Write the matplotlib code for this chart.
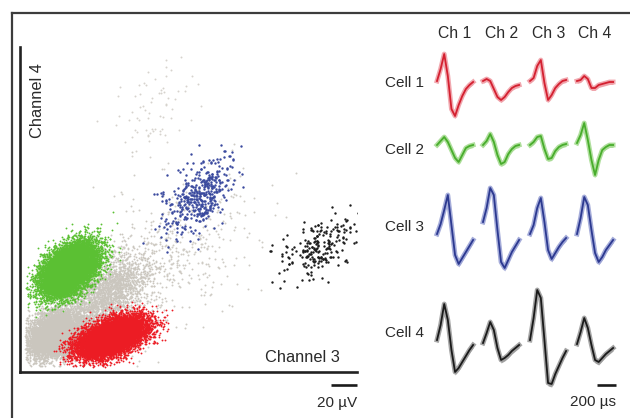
import matplotlib
matplotlib.use("Agg")
import matplotlib.pyplot as plt
from matplotlib.lines import Line2D
import numpy as np

plt.rcParams['font.family'] = ['Liberation Sans', 'DejaVu Sans']

# --- cluster parameters (Channel 3 vs Channel 4, in uV) ---
cluster_names = ['gray_core', 'gray_band', 'gray_sparse', 'gray_top', 'green', 'red', 'blue', 'black']
cluster_cx = [26, 64, 110, 95, 36, 68, 133, 224]
cluster_cy = [28, 58, 85, 195, 76, 26, 131, 94]
cluster_sx = [11, 17, 34, 14, 10, 12.5, 13, 15]
cluster_sy = [9, 15, 30, 20, 9.5, 7.5, 14, 10]
cluster_rho = [0.3, 0.55, 0.45, 0.2, 0.45, 0.5, 0.5, 0.5]
cluster_n = [5500, 2200, 450, 70, 12000, 10000, 420, 220]
cluster_col = ['#cac6be', '#cac6be', '#cfcbc4', '#d6d3cd', '#5bc033', '#ec1c24', '#3a4a9e', '#1c1c1c']
cluster_size = [1.8, 1.8, 2.0, 2.0, 1.8, 1.8, 3.0, 3.0]

# --- mean waveforms (sampled every 40 us, amplitude in uV, baseline 0) ---
t_us = [0, 40, 80, 120, 160, 200, 240, 280, 320, 360, 400]
cells = ['Cell 1', 'Cell 2', 'Cell 3', 'Cell 4']
channels = ['Ch 1', 'Ch 2', 'Ch 3', 'Ch 4']
cell1 = [[0, 12, 27, 5, -28, -35, -24, -15, -8, -4, -1],
         [0, 2, 0, -8, -16, -19, -16, -11, -7, -5, -4],
         [0, 3, 15, 21, -2, -19, -14, -7, -3, 0, 1],
         [0, 1, 5, 2, -7, -7, -4, -3, -2, -1, -1]]
cell2 = [[0, 4, 8, 3, -5, -13, -17, -10, -3, -1, 0],
         [0, 4, 11, 3, -10, -19, -17, -9, -4, -1, 0],
         [0, 3, 8, 9, -4, -14, -13, -6, -2, 0, 1],
         [2, 10, 22, 5, -15, -30, -15, -5, -2, 0, 0]]
cell3 = [[1, 11, 25, 40, 10, -20, -29, -23, -17, -11, -5],
         [13, 27, 47, 40, 5, -27, -33, -25, -17, -11, -5],
         [1, 10, 27, 37, 13, -15, -24, -18, -12, -7, -3],
         [1, 17, 38, 30, 5, -18, -27, -22, -15, -10, -5]]
cell4 = [[2, 17, 38, 22, -8, -30, -26, -20, -14, -8, -3],
         [-1, 9, 20, 12, -6, -18, -16, -13, -9, -6, -3],
         [2, 24, 52, 44, 2, -41, -42, -32, -24, -16, -9],
         [-2, 10, 24, 14, -3, -18, -20, -16, -12, -9, -6]]
waveforms = [cell1, cell2, cell3, cell4]
wave_err = [2.5, 2.5, 3.0, 3.0]
wave_col = ['#d42030', '#48ad2c', '#2c3990', '#1a1a1a']
wave_fill = ['#f0a0a8', '#a8dc94', '#9ca4d6', '#9c9c9c']

W, H = 630, 418


def fx(px):
    return px / W


def fy(py):
    return 1 - py / H


fig = plt.figure(figsize=(6.3, 4.18), dpi=100)
fig.patch.set_facecolor('white')

# outer frame (left and top edges visible)
fig.add_artist(Line2D([fx(11.5), fx(11.5)], [fy(12.5), 0], color='#3c3c3c', lw=1.6))
fig.add_artist(Line2D([fx(11.5), 1], [fy(12.5), fy(12.5)], color='#3c3c3c', lw=1.6))

# ---------------- scatter panel ----------------
ax = fig.add_axes([fx(20), fy(372), fx(357) - fx(20), fy(47) - fy(372)])
rng = np.random.default_rng(7)
for cx, cy, sx, sy, rho, n, c, s in zip(cluster_cx, cluster_cy, cluster_sx, cluster_sy,
                                        cluster_rho, cluster_n, cluster_col, cluster_size):
    cov = [[sx * sx, rho * sx * sy], [rho * sx * sy, sy * sy]]
    pts = rng.multivariate_normal([cx, cy], cov, n)
    pts = pts[(pts[:, 0] > 4) & (pts[:, 1] > 4)]
    ax.scatter(pts[:, 0], pts[:, 1], s=s, color=c, linewidths=0, marker='o')

ax.set_xlim(0, 250)
ax.set_ylim(0, 240.7)
for side in ['top', 'right']:
    ax.spines[side].set_visible(False)
for side in ['left', 'bottom']:
    ax.spines[side].set_linewidth(1.9)
    ax.spines[side].set_color('#222222')
ax.set_xticks([])
ax.set_yticks([])
ax.patch.set_alpha(0)

# 20 uV scale bar
ax.plot([230.5, 250], [-9.3, -9.3], color='#1a1a1a', lw=1.9, clip_on=False,
        solid_capstyle='butt')

txt = dict(color='#2a2a2a')
fig.text(fx(340), fy(357), 'Channel 3', ha='right', va='center', fontsize=11.8, **txt)
fig.text(fx(37), fy(63), 'Channel 4', ha='center', va='top', rotation=90, fontsize=11.8, **txt)
fig.text(fx(357), fy(403), '20 µV', ha='right', va='center', fontsize=11, **txt)

# ---------------- waveform panel ----------------
us_per_px = 200 / 19.0
wx0, wx1 = 430, 625
axw = fig.add_axes([fx(wx0), 0, fx(wx1) - fx(wx0), 1])
axw.set_xlim(0, (wx1 - wx0) * us_per_px)
axw.set_ylim(0, H)
axw.axis('off')

col_start = [(p - wx0) * us_per_px for p in [437, 483, 530, 577]]
row_base = [H - p for p in [81, 145, 235, 342]]
t = np.array(t_us, dtype=float) * 0.95

for i, cell in enumerate(waveforms):
    for j, w in enumerate(cell):
        x = col_start[j] + t
        y = row_base[i] + np.array(w, dtype=float)
        axw.fill_between(x, y - wave_err[i], y + wave_err[i], color=wave_fill[i],
                         lw=0, alpha=0.9)
        axw.plot(x, y, color=wave_fill[i], lw=3.5, alpha=0.9, solid_joinstyle='round')
        axw.plot(x, y, color=wave_col[i], lw=1.3)

# 200 us scale bar
axw.plot([(597 - wx0) * us_per_px, (616 - wx0) * us_per_px], [H - 385, H - 385],
         color='#1a1a1a', lw=1.9, solid_capstyle='butt')

for j, name in enumerate(channels):
    fig.text(fx([455, 502, 549, 595][j]), fy(33), name, ha='center', va='center',
             fontsize=11.3, **txt)
for i, name in enumerate(cells):
    fig.text(fx(385), fy([83, 150, 227, 333][i]), name, ha='left', va='center',
             fontsize=11, **txt)
fig.text(fx(616), fy(402), '200 µs', ha='right', va='center', fontsize=11, **txt)

fig.savefig('out.png', dpi=100, facecolor='white')
